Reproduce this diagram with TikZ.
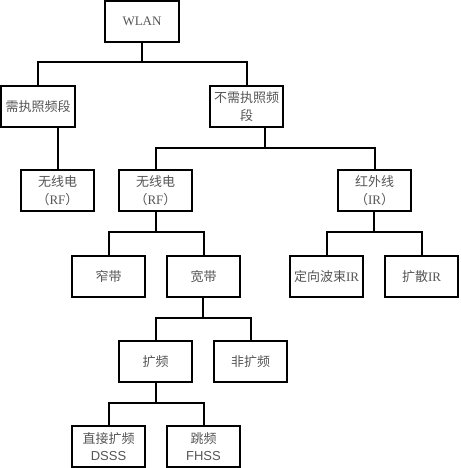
\documentclass[tikz,border=0pt]{standalone}
\usepackage{fontspec}
\setmainfont{Liberation Serif}
\newfontfamily\cjk{Noto Sans CJK SC}
\newfontfamily\lsans{Liberation Sans}
\usetikzlibrary{calc}
\definecolor{txt}{HTML}{555555}
\begin{document}
\begin{tikzpicture}[x=1pt,y=-1pt,
  box/.style={draw=black,line width=2pt,minimum width=73.5pt,minimum height=40.5pt,inner sep=0pt,
    align=center,text=txt,font=\fontsize{13}{17.5}\selectfont},
  conn/.style={line width=2pt,black}]
\useasboundingbox (0,0) rectangle (460,468);
\node[box] (wlan) at (142,21.5) {WLAN};
\node[box] (lic) at (38,106.5) {\cjk 需执照频段};
\node[box] (unl) at (246.5,106.5) {\cjk 不需执照频\\\cjk 段};
\node[box] (rfl) at (57.5,190.5) {\cjk 无线电\\{\cjk （}RF{\cjk ）}};
\node[box] (rfm) at (155.5,190.5) {\cjk 无线电\\{\cjk （}RF{\cjk ）}};
\node[box] (ir) at (374.5,190.5) {\cjk 红外线\\{\cjk （}IR{\cjk ）}};
\node[box] (nb) at (108.5,276.5) {\cjk 窄带};
\node[box] (wb) at (203.5,276.5) {\cjk 宽带};
\node[box] (dir) at (326.5,276.5) {{\cjk 定向波束}IR};
\node[box] (dif) at (421.5,276.5) {{\cjk 扩散}IR};
\node[box] (ss) at (155.5,361.5) {\cjk 扩频};
\node[box] (nss) at (250.5,361.5) {\cjk 非扩频};
\node[box] (dsss) at (108.5,446.5) {\cjk 直接扩频\\\lsans DSSS};
\node[box] (fhss) at (203.5,446.5) {\cjk 跳频\\\lsans FHSS};
% WLAN
\path (lic.north) -- (unl.north) coordinate[pos=.5] (m1);
\draw[conn] (lic.north) -- ++(0,-23) -| (unl.north);
\draw[conn] (wlan.south -| m1) -- ([yshift=23pt]m1);
% licensed
\draw[conn] (rfl.north) -- (rfl.north |- lic.south);
% unlicensed
\path (rfm.north) -- (ir.north) coordinate[pos=.5] (m2);
\draw[conn] (rfm.north) -- ++(0,-21) -| (ir.north);
\draw[conn] (unl.south -| m2) -- ([yshift=21pt]m2);
% RF mid
\path (nb.north) -- (wb.north) coordinate[pos=.5] (m3);
\draw[conn] (nb.north) -- ++(0,-23) -| (wb.north);
\draw[conn] (rfm.south -| m3) -- ([yshift=23pt]m3);
% IR
\path (dir.north) -- (dif.north) coordinate[pos=.5] (m4);
\draw[conn] (dir.north) -- ++(0,-23) -| (dif.north);
\draw[conn] (ir.south -| m4) -- ([yshift=23pt]m4);
% wideband
\path (ss.north) -- (nss.north) coordinate[pos=.5] (m5);
\draw[conn] (ss.north) -- ++(0,-22) -| (nss.north);
\draw[conn] (wb.south -| m5) -- ([yshift=22pt]m5);
% spread spectrum
\path (dsss.north) -- (fhss.north) coordinate[pos=.5] (m6);
\draw[conn] (dsss.north) -- ++(0,-22) -| (fhss.north);
\draw[conn] (ss.south -| m6) -- ([yshift=22pt]m6);
\end{tikzpicture}
\end{document}
